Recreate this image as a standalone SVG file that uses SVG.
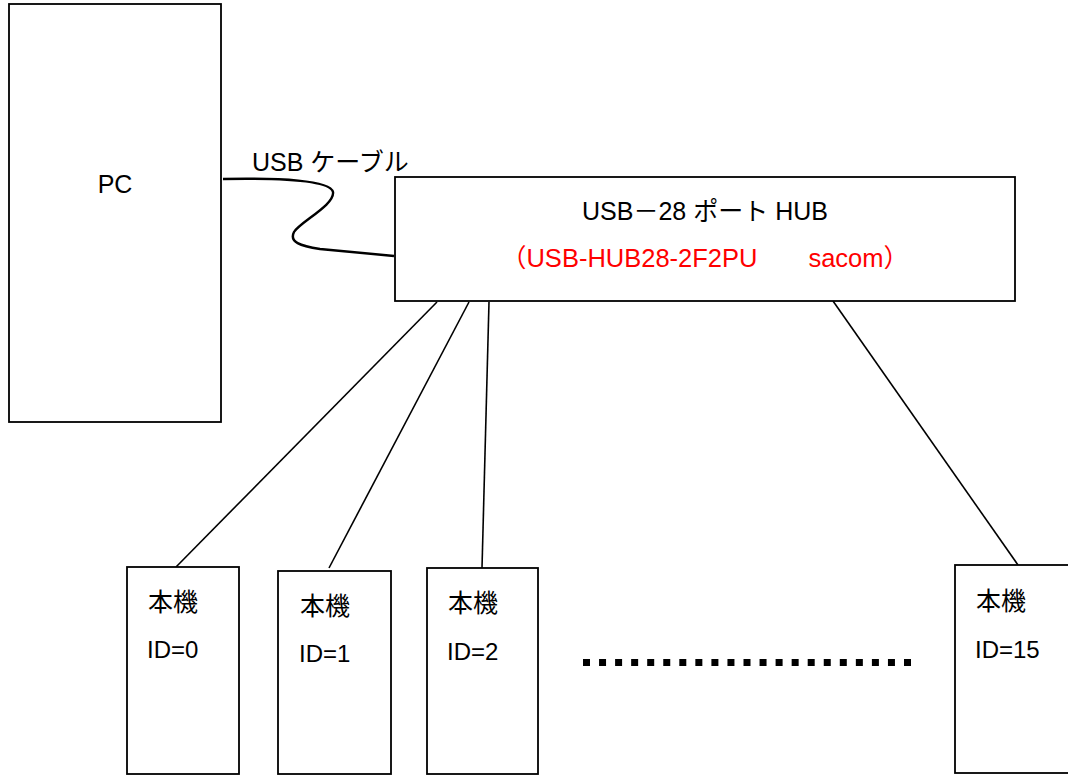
<svg xmlns="http://www.w3.org/2000/svg" width="1068" height="775" viewBox="0 0 1068 775">
<style>
.box{fill:#fff;stroke:#000;stroke-width:1.8}
.ln{fill:none;stroke:#000;stroke-width:1.6}
.cable{fill:none;stroke:#000;stroke-width:2.4}
text{font-family:"Liberation Sans","Noto Sans CJK JP",sans-serif;font-size:25px;fill:#000}
.id{font-size:24px}
.red{fill:#ff0000;font-size:25.5px}
</style>
<rect width="1068" height="775" fill="#fff"/>
<g id="connectors">
<path class="cable" d="M223,179 C280,178 330,180 333,192 C335,205 300,222 294,232 C289,242 300,246 320,249 L394,256"/>
<line class="ln" x1="437" y1="302" x2="176" y2="567"/>
<line class="ln" x1="469" y1="302" x2="329" y2="568"/>
<line class="ln" x1="489" y1="302" x2="482" y2="568"/>
<line class="ln" x1="833" y1="301" x2="1018" y2="565"/>
</g>
<g id="cable-label"><text x="252" y="171">USB ケーブル</text></g>
<g id="pc">
<rect class="box" x="9" y="4" width="212" height="418"/>
<text x="115" y="193" text-anchor="middle">PC</text>
</g>
<g id="hub">
<rect class="box" x="395" y="177" width="620" height="124"/>
<text x="705" y="220" text-anchor="middle">USB－28 ポート HUB</text>
<text class="red" x="705" y="267" text-anchor="middle">（USB-HUB28-2F2PU　　sacom）</text>
</g>
<g id="dev0">
<rect class="box" x="127" y="567" width="112" height="207"/>
<text x="148" y="611">本機</text>
<text class="id" x="147" y="658">ID=0</text>
</g>
<g id="dev1">
<rect class="box" x="278" y="571" width="113" height="203"/>
<text x="300" y="615">本機</text>
<text class="id" x="299" y="662">ID=1</text>
</g>
<g id="dev2">
<rect class="box" x="427" y="568" width="111" height="206"/>
<text x="448" y="612">本機</text>
<text class="id" x="447" y="660">ID=2</text>
</g>
<g id="ellipsis">
<line x1="583" y1="662.5" x2="911" y2="662.5" stroke="#000" stroke-width="7" stroke-dasharray="7 9.05"/>
</g>
<g id="dev15">
<rect class="box" x="955" y="565" width="120" height="208"/>
<text x="976" y="610">本機</text>
<text class="id" x="975" y="658">ID=15</text>
</g>
</svg>
